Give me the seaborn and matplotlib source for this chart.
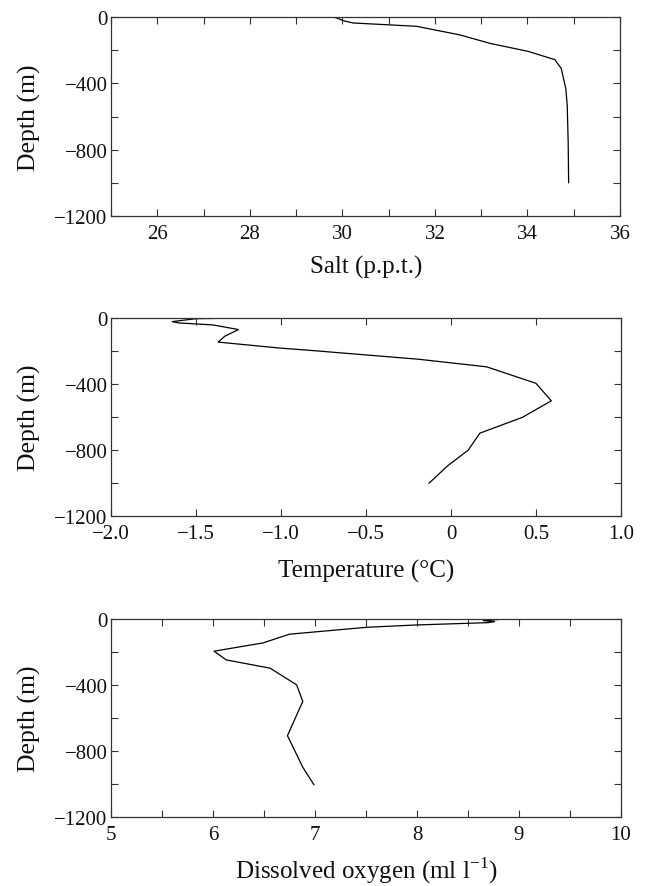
import numpy as np
import pandas as pd
import matplotlib
matplotlib.use("Agg")
import matplotlib.pyplot as plt
from matplotlib.ticker import MultipleLocator, FuncFormatter
import seaborn as sns

# ---- data ----
salt_depth = [0, -8, -22, -36, -56, -108, -159, -207, -257, -310, -434, -535, -756, -1000]
salt_value = [29.8, 29.9, 30.02, 30.23, 31.6, 32.54, 33.19, 34.01, 34.59, 34.73, 34.83, 34.86, 34.88, 34.89]

temp_depth = [0, -4, -22, -30, -42, -70, -110, -146, -182, -196, -250, -296, -396, -502, -602, -698, -802, -896, -1002]
temp_value = [-1.2, -1.5, -1.64, -1.6, -1.4, -1.25, -1.33, -1.37, -1.01, -0.83, -0.19, 0.21, 0.5, 0.59, 0.42, 0.17, 0.1, -0.02, -0.13]

oxy_depth = [0, -10, -16, -22, -36, -50, -70, -92, -145, -195, -248, -298, -399, -500, -610, -707, -898, -1005]
oxy_value = [8.86, 8.65, 8.76, 8.7, 8.0, 7.51, 7.15, 6.75, 6.49, 6.01, 6.13, 6.56, 6.82, 6.88, 6.80, 6.73, 6.88, 6.99]

sns.set_theme(style="white")
plt.rcParams['font.family'] = ['Liberation Serif', 'DejaVu Serif']
plt.rcParams['mathtext.fontset'] = 'custom'
plt.rcParams['mathtext.rm'] = 'Liberation Serif'
plt.rcParams['axes.unicode_minus'] = True

fig = plt.figure(figsize=(6.53, 8.87), dpi=100)

W = 653; H = 887
def axrect(l, r, t, b):
    return [l / W, 1 - b / H, (r - l) / W, (b - t) / H]

ax1 = fig.add_axes(axrect(111, 620, 18, 217))
ax2 = fig.add_axes(axrect(111, 621, 319, 517))
ax3 = fig.add_axes(axrect(111, 621, 620, 818))

def minus(s):
    return s.replace('-', '\u2212')

# (axes, x values, depths, x label, x range, minor step, major step, formatter, label baseline px)
panels = [
    (ax1, salt_value, salt_depth, "Salt (p.p.t.)", (25, 36), 1, 2, lambda v: f"{v:.0f}", 274),
    (ax2, temp_value, temp_depth, "Temperature (\u00b0C)", (-2, 1), 0.5, 0.5,
     lambda v: "0" if abs(v) < 1e-9 else minus(f"{v:.1f}"), 578),
    (ax3, oxy_value, oxy_depth, r"Dissolved oxygen (ml l$^{\mathrm{-1}}$)", (5, 10), 0.5, 1,
     lambda v: f"{v:.0f}", 879),
]

for ax, xv, yv, xlabel, xlim, xminor, xmajor, fmt, lab_y in panels:
    df = pd.DataFrame({"x": xv, "y": yv})
    sns.lineplot(data=df, x="x", y="y", sort=False, estimator=None, color="black", lw=0.9, ax=ax)
    ax.set_xlim(*xlim)
    ax.set_ylim(-1200, 0)
    ax.xaxis.set_major_locator(MultipleLocator(xmajor))
    ax.xaxis.set_minor_locator(MultipleLocator(xminor))
    ax.xaxis.set_major_formatter(FuncFormatter(lambda v, p, f=fmt: f(v)))
    ax.yaxis.set_major_locator(MultipleLocator(400))
    ax.yaxis.set_minor_locator(MultipleLocator(200))
    ax.yaxis.set_major_formatter(FuncFormatter(lambda v, p: minus(f"{v:.0f}")))
    ax.tick_params(which='both', direction='in', top=True, right=True, bottom=True, left=True,
                   color='#333333', width=0.8, labelsize=15, labelcolor='#111111', length=5)
    ax.tick_params(axis='x', which='both', pad=6)
    ax.tick_params(axis='y', which='both', pad=2.5)
    for sp in ax.spines.values():
        sp.set_color('#333333')
        sp.set_linewidth(0.9)
    ax.set_xlabel(xlabel, fontsize=18, color='#111111')
    ax.xaxis.set_label_coords(366 / W, 1 - lab_y / H, transform=fig.transFigure)
    ax.xaxis.label.set_va('baseline')
    ax.set_ylabel("Depth (m)", fontsize=18.5, color='#111111')
    pos = ax.get_position()
    ax.yaxis.set_label_coords(29 / W, pos.y0 + pos.height / 2, transform=fig.transFigure)
    ax.yaxis.label.set_va('center')

fig.savefig("out.png", dpi=100)
